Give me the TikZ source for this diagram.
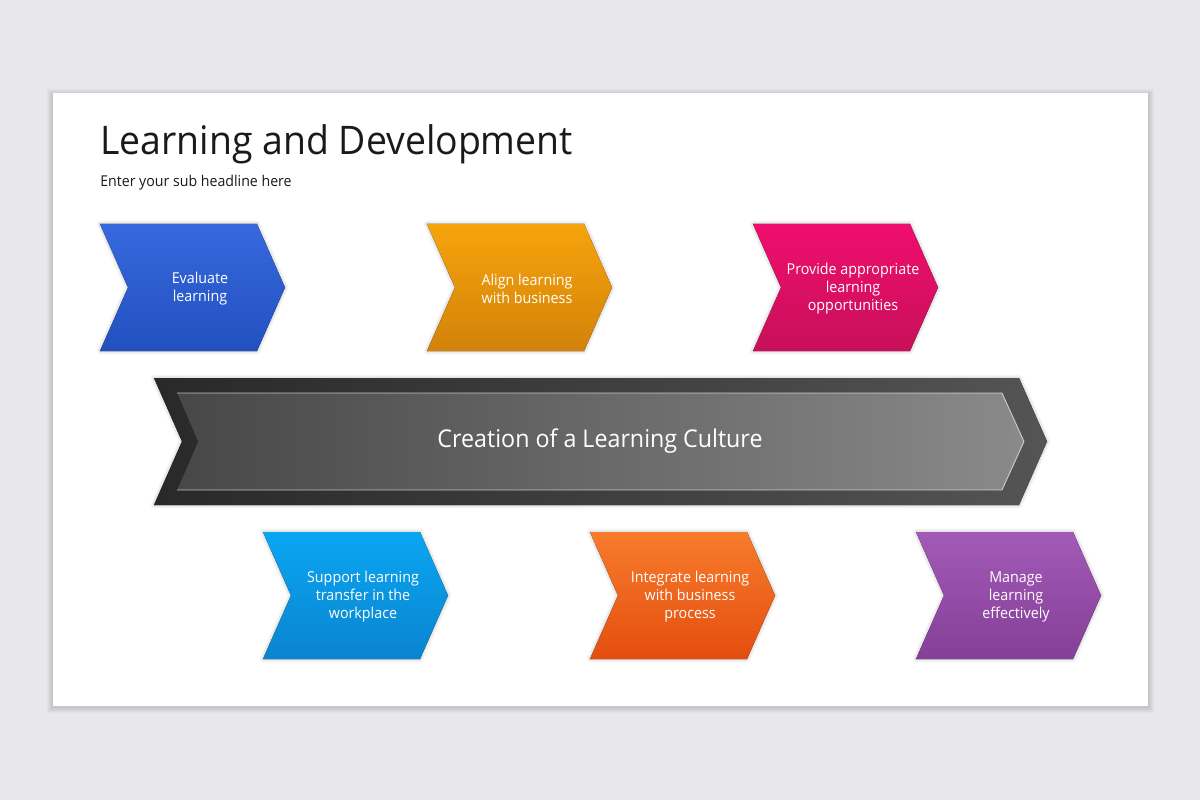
\documentclass[tikz,border=0pt]{standalone}
\usepackage{fontspec}
\setmainfont{Open Sans}[FakeStretch=0.95]

\definecolor{pagebg}{HTML}{E8E7E9}
\definecolor{titlegray}{HTML}{1A1A1A}
\definecolor{blueA}{HTML}{3669DD}
\definecolor{blueB}{HTML}{2250C0}
\definecolor{amberA}{HTML}{F6A40B}
\definecolor{amberB}{HTML}{D3820A}
\definecolor{pinkA}{HTML}{EF0E6D}
\definecolor{pinkB}{HTML}{C8105A}
\definecolor{cyanA}{HTML}{0AA6F2}
\definecolor{cyanB}{HTML}{0A84CF}
\definecolor{rustA}{HTML}{F77C2C}
\definecolor{rustB}{HTML}{E44E0E}
\definecolor{plumA}{HTML}{A25AB6}
\definecolor{plumB}{HTML}{843F98}

\tikzset{
  chevtext/.style={text=white, align=center, font=\fontsize{10.7}{12.8}\selectfont},
  halo/.style={black, opacity=0.035},
}

% chevron: name, x, y, top colour, bottom colour, text
\newcommand\chevron[6]{%
  \foreach \g in {1,2,3}
    \fill[halo, line join=round, draw=black, draw opacity=0.035, line width=\g*1.6pt]
      (#2,#3) -- ++(157,0) -- ++(28,63.5) -- ++(-28,63.5)
      -- ++(-157,0) -- ++(28,-63.5) -- cycle;
  \fill[top color=#4, bottom color=#5]
    (#2,#3) -- ++(157,0) -- ++(28,63.5) -- ++(-28,63.5)
    -- ++(-157,0) -- ++(28,-63.5) -- cycle;
  \node[chevtext] (#1) at (#2+100,#3+65) {#6};
}

\begin{document}
\begin{tikzpicture}[x=0.025cm, y=-0.025cm]
  \fill[pagebg] (0,0) rectangle (1200,800);
  \useasboundingbox (0,0) rectangle (1200,800);

  % slide with soft shadow
  \foreach \s in {1,...,6}
    \fill[black, opacity=0.025] (53-\s,93-\s+2) rectangle (1148+\s,706+\s+1);
  \fill[white] (53,93) rectangle (1148,706);

  \node[anchor=base west, text=titlegray, inner sep=0pt,
    font=\fontsize{28}{30}\selectfont] (title) at (100,155) {Learning and Development};
  \node[anchor=base west, text=titlegray, inner sep=0pt,
    font=\fontsize{10.6}{12}\selectfont] (subtitle) at (100,187) {Enter your sub headline here};

  % top row
  \chevron{evaluate}{100}{224}{blueA}{blueB}{Evaluate\\learning}
  \chevron{align}{427}{224}{amberA}{amberB}{Align learning\\with business}
  \chevron{provide}{753}{224}{pinkA}{pinkB}{Provide appropriate\\learning\\opportunities}

  % central arrow
  \foreach \g in {1,2,3}
    \draw[black, opacity=0.035, line join=round, line width=\g*1.6pt]
      (154,378) -- (1019,378) -- (1047,441.5) -- (1019,505)
      -- (154,505) -- (182,441.5) -- cycle;
  \fill[left color=black!84, right color=black!67]
    (154,378) -- (1019,378) -- (1047,441.5) -- (1019,505)
    -- (154,505) -- (182,441.5) -- cycle;
  \fill[left color=black!72, right color=black!46]
    (177,393) -- (1002,393) -- (1024,441.5) -- (1002,490)
    -- (177,490) -- (198,441.5) -- cycle;
  \draw[white, opacity=0.7, line width=0.6pt]
    (177,393) -- (1002,393) -- (1024,441.5) -- (1002,490) -- (177,490);
  \node[text=white, font=\fontsize{17.4}{19}\selectfont] (culture) at (600,441.5)
    {Creation of a Learning Culture};

  % bottom row
  \chevron{support}{263}{532}{cyanA}{cyanB}{Support learning\\transfer in the\\workplace}
  \chevron{integrate}{590}{532}{rustA}{rustB}{Integrate learning\\with business\\process}
  \chevron{manage}{916}{532}{plumA}{plumB}{Manage\\learning\\effectively}
\end{tikzpicture}
\end{document}
